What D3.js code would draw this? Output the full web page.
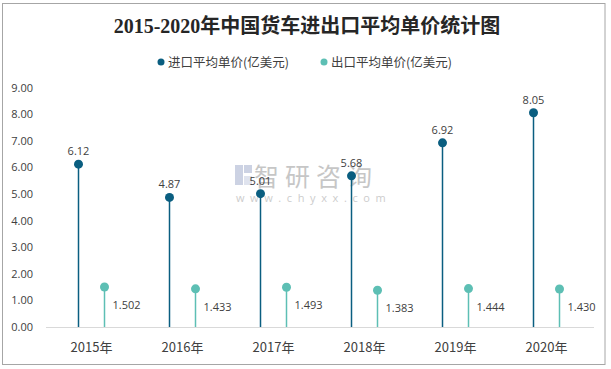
<!DOCTYPE html>
<html><head><meta charset="utf-8">
<script src="https://cdn.jsdelivr.net/npm/d3@7"></script>
<style>body{margin:0;background:#fff}svg{display:block}</style>
</head><body>
<script>
const categories = ["2015年","2016年","2017年","2018年","2019年","2020年"];
const importPrice = [6.12, 4.87, 5.01, 5.68, 6.92, 8.05];
const exportPrice = [1.502, 1.433, 1.493, 1.383, 1.444, 1.430];
const importLabels = ["6.12","4.87","5.01","5.68","6.92","8.05"];
const exportLabels = ["1.502","1.433","1.493","1.383","1.444","1.430"];
const yTicks = [0,1,2,3,4,5,6,7,8,9];
const seriesNames = ["进口平均单价(亿美元)","出口平均单价(亿美元)"];
const colors = ["#0a5e80","#5dbfb4"];

const W = 611, H = 369;
const svg = d3.select("body").append("svg").attr("width", W).attr("height", H);
svg.append("rect").attr("x",2.5).attr("y",3.5).attr("width",602.5).attr("height",361)
  .attr("fill","#fff").attr("stroke","#a6a6a6").attr("stroke-width",1);

const sans = "'Noto Sans CJK SC','Open Sans',sans-serif";
const numFont = "'Open Sans','Liberation Sans',sans-serif";

svg.append("text").attr("x",307).attr("y",33).attr("text-anchor","middle")
  .attr("font-family","'Liberation Serif','Noto Sans CJK SC',serif").attr("font-weight","bold")
  .attr("font-size",20).attr("fill","#262626").text("2015-2020年中国货车进出口平均单价统计图");

// legend
const legX = [161, 324];
seriesNames.forEach((n,i)=>{
  svg.append("circle").attr("cx",legX[i]).attr("cy",62).attr("r",3.5).attr("fill",colors[i]);
  svg.append("text").attr("x",legX[i]+7).attr("y",66.5).attr("font-family",sans)
    .attr("font-size",12.5).attr("fill","#404040").text(n);
});

const x = d3.scaleBand().domain(categories).range([46,592]);
const y = d3.scaleLinear().domain([0,9]).range([327,87.5]);

// watermark
const wm = svg.append("g").attr("opacity",0.5);
wm.append("rect").attr("x",235).attr("y",165).attr("width",8).attr("height",20).attr("fill","#9aa6c8");
wm.append("rect").attr("x",244).attr("y",165).attr("width",8).attr("height",8).attr("fill","#9aa6c8");
wm.append("rect").attr("x",244).attr("y",176).attr("width",8).attr("height",9).attr("fill","#c0c8de");
wm.append("text").attr("x",254).attr("y",186).attr("font-family",sans).attr("font-size",25)
  .attr("fill","#8f8f8f").attr("letter-spacing",6).text("智研咨询");
wm.append("text").attr("x",236).attr("y",202).attr("font-family",numFont).attr("font-size",11)
  .attr("fill","#9a9a9a").attr("letter-spacing",5.6).text("www.chyxx.com");

// y axis labels
svg.append("g").selectAll("text").data(yTicks).join("text")
  .attr("x",33).attr("y",d=>y(d)+4).attr("text-anchor","end")
  .attr("font-family",numFont).attr("font-size",11).attr("fill","#404040")
  .text(d=>d3.format(".2f")(d));

// baseline
svg.append("line").attr("x1",46).attr("x2",594).attr("y1",327.5).attr("y2",327.5)
  .attr("stroke","#d9d9d9").attr("stroke-width",1);

// x labels
svg.append("g").selectAll("text").data(categories).join("text")
  .attr("x",d=>x(d)+x.bandwidth()/2).attr("y",352).attr("text-anchor","middle")
  .attr("font-family",sans).attr("font-size",13).attr("fill","#404040").text(d=>d);

function series(vals, labels, offset, color, isImport){
  const g = svg.append("g");
  const cx = (d,i)=>x(categories[i])+x.bandwidth()/2+offset;
  g.selectAll("line").data(vals).join("line")
    .attr("x1",cx).attr("x2",cx).attr("y1",y(0)).attr("y2",d=>y(d))
    .attr("stroke",color).attr("stroke-width",1.5);
  g.selectAll("circle").data(vals).join("circle")
    .attr("cx",cx).attr("cy",d=>y(d)).attr("r",4.5).attr("fill",color);
  g.selectAll("text").data(vals).join("text")
    .attr("x",(d,i)=>isImport?cx(d,i):cx(d,i)+8)
    .attr("y",d=>isImport?y(d)-9:y(d)+22)
    .attr("text-anchor",isImport?"middle":"start")
    .attr("font-family",numFont).attr("font-size",11).attr("fill","#404040")
    .text((d,i)=>labels[i]);
}
series(importPrice, importLabels, -13, colors[0], true);
series(exportPrice, exportLabels, 13, colors[1], false);
</script>
</body></html>
